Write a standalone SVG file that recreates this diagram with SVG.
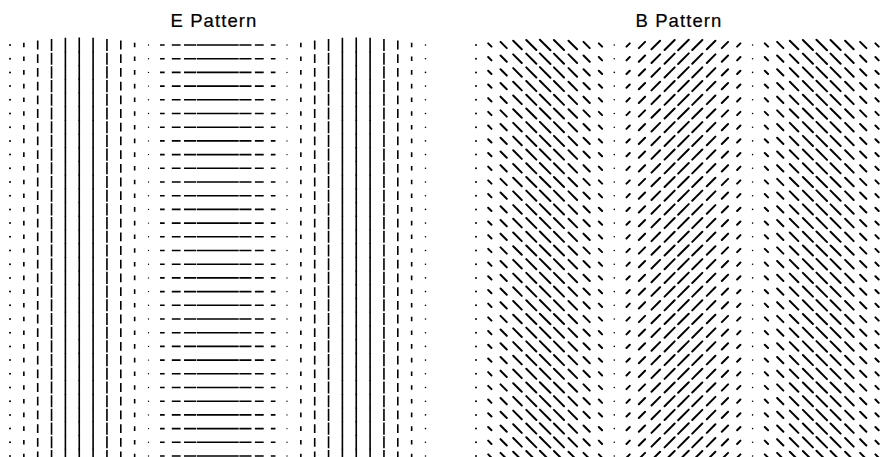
<svg xmlns="http://www.w3.org/2000/svg" xmlns:xlink="http://www.w3.org/1999/xlink" width="887" height="457" viewBox="0 0 887 457">
<style>
.title{font-family:"Liberation Sans",Arial,sans-serif;font-size:18.5px;letter-spacing:1.1px;fill:#000;stroke:#000;stroke-width:0.2;text-anchor:middle}
.e{fill:none;stroke:#000;stroke-width:1.6}
.b{fill:none;stroke:#000;stroke-width:2;stroke-linecap:round}
.dot{fill:#000}
</style>
<defs>
<g id="row">
<path class="e" d="M23.85 -2.32V2.32M37.7 -4.41V4.41M51.55 -6.07V6.07M65.4 -7.13V7.13M79.25 -7.5V7.5M93.1 -7.13V7.13M106.95 -6.07V6.07M120.8 -4.41V4.41M134.65 -2.32V2.32M160.03 0H164.67M171.79 0H180.61M183.98 0H196.12M196.77 0H211.03M210.25 0H225.25M224.47 0H238.73M239.38 0H251.52M254.89 0H263.71M270.83 0H275.47M300.85 -2.32V2.32M314.7 -4.41V4.41M328.55 -6.07V6.07M342.4 -7.13V7.13M356.25 -7.5V7.5M370.1 -7.13V7.13M383.95 -6.07V6.07M397.8 -4.41V4.41M411.65 -2.32V2.32"/>
<path class="b" d="M488.19 -1.64L491.47 1.64M500.54 -3.12L506.78 3.12M513.2 -4.29L521.78 4.29M526.28 -5.04L536.36 5.04M539.85 -5.3L550.45 5.3M553.94 -5.04L564.02 5.04M568.52 -4.29L577.1 4.29M583.52 -3.12L589.76 3.12M598.83 -1.64L602.11 1.64M626.49 1.64L629.77 -1.64M638.84 3.12L645.08 -3.12M651.5 4.29L660.08 -4.29M664.58 5.04L674.66 -5.04M678.15 5.3L688.75 -5.3M692.24 5.04L702.32 -5.04M706.82 4.29L715.4 -4.29M721.82 3.12L728.06 -3.12M737.13 1.64L740.41 -1.64M764.79 -1.64L768.07 1.64M777.14 -3.12L783.38 3.12M789.8 -4.29L798.38 4.29M802.88 -5.04L812.96 5.04M816.45 -5.3L827.05 5.3M830.54 -5.04L840.62 5.04M845.12 -4.29L853.7 4.29M860.12 -3.12L866.36 3.12M875.43 -1.64L878.71 1.64"/>
<circle class="dot" cx="10" cy="0" r="1"/>
<circle class="dot" cx="148.5" cy="0" r="0.7"/>
<circle class="dot" cx="287" cy="0" r="0.7"/>
<circle class="dot" cx="425.5" cy="0" r="0.8"/>
<circle class="dot" cx="476" cy="0" r="1"/>
<circle class="dot" cx="614.3" cy="0" r="0.8"/>
<circle class="dot" cx="752.6" cy="0" r="0.8"/>
</g>
</defs>
<text class="title" x="214" y="27">E Pattern</text>
<text class="title" x="679" y="27">B Pattern</text>
<g id="field">
<use xlink:href="#row" y="45"/>
<use xlink:href="#row" y="58.7"/>
<use xlink:href="#row" y="72.4"/>
<use xlink:href="#row" y="86.1"/>
<use xlink:href="#row" y="99.8"/>
<use xlink:href="#row" y="113.5"/>
<use xlink:href="#row" y="127.2"/>
<use xlink:href="#row" y="140.9"/>
<use xlink:href="#row" y="154.6"/>
<use xlink:href="#row" y="168.3"/>
<use xlink:href="#row" y="182"/>
<use xlink:href="#row" y="195.7"/>
<use xlink:href="#row" y="209.4"/>
<use xlink:href="#row" y="223.1"/>
<use xlink:href="#row" y="236.8"/>
<use xlink:href="#row" y="250.5"/>
<use xlink:href="#row" y="264.2"/>
<use xlink:href="#row" y="277.9"/>
<use xlink:href="#row" y="291.6"/>
<use xlink:href="#row" y="305.3"/>
<use xlink:href="#row" y="319"/>
<use xlink:href="#row" y="332.7"/>
<use xlink:href="#row" y="346.4"/>
<use xlink:href="#row" y="360.1"/>
<use xlink:href="#row" y="373.8"/>
<use xlink:href="#row" y="387.5"/>
<use xlink:href="#row" y="401.2"/>
<use xlink:href="#row" y="414.9"/>
<use xlink:href="#row" y="428.6"/>
<use xlink:href="#row" y="442.3"/>
<use xlink:href="#row" y="456"/>
</g>
</svg>
